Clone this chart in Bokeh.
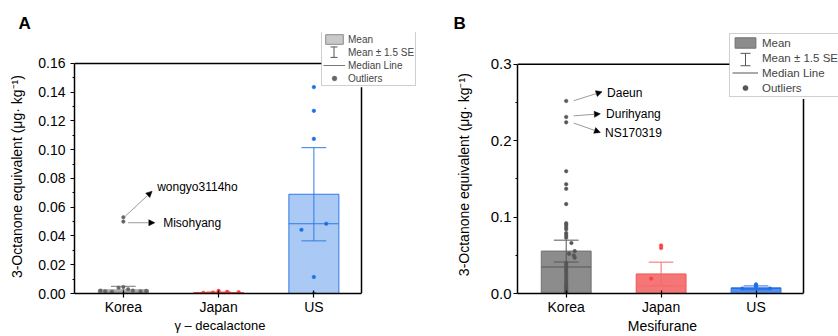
from bokeh.plotting import figure
from bokeh.layouts import row
from bokeh.models import (ColumnDataSource, Range1d, FixedTicker, Arrow, NormalHead, Title,
                          Legend, LegendItem, NumeralTickFormatter)
from bokeh.core.properties import value
from bokeh.embed import file_html
from bokeh.resources import INLINE

FONT = "Liberation Sans"
NBSP = "\u00a0"

categories = ["Korea", "Japan", "US"]
ylabel = "3-Octanone equivalent (μg· kg⁻¹)"

# ---------------- Panel A: gamma-decalactone ----------------
a_mean = [0.0025, 0.0006, 0.0690]
a_se15 = [0.0025, 0.0004, 0.0324]
a_median = [0.0010, 0.0003, 0.0485]
a_korea_pts = [0.0020, 0.0015, 0.0012, 0.0040, 0.0045, 0.0030, 0.0020, 0.0015, 0.0018, 0.0530, 0.0500]
a_korea_jit = [-0.24, -0.19, -0.12, -0.05, 0.00, 0.05, 0.10, 0.18, 0.24, 0.00, 0.00]
a_japan_pts = [0.0005, 0.0018, 0.0012, 0.0009, 0.0006]
a_japan_jit = [-0.16, 0.00, 0.09, 0.21, -0.06]
a_us_pts = [0.1435, 0.1270, 0.1075, 0.0485, 0.0443, 0.0115, 0.0000]
a_us_jit = [0.00, 0.00, 0.00, 0.13, -0.13, 0.00, 0.00]
a_yticks = [0.00, 0.02, 0.04, 0.06, 0.08, 0.10, 0.12, 0.14, 0.16]
a_yminor = [0.01, 0.03, 0.05, 0.07, 0.09, 0.11, 0.13, 0.15]
a_notes = ["wongyo3114ho", "Misohyang"]
a_note_x = [1.355, 1.418]
a_note_y = [0.0738, 0.0487]
a_arrow_x0 = [1.021, 1.050]
a_arrow_y0 = [0.0538, 0.0492]
a_arrow_x1 = [1.302, 1.330]
a_arrow_y1 = [0.0711, 0.0492]

# ---------------- Panel B: Mesifurane ----------------
b_mean = [0.0555, 0.0256, 0.0074]
b_se15 = [0.0143, 0.0154, 0.0025]
b_median = [0.0347, 0.0100, 0.0065]
b_korea_pts = [0.252, 0.231, 0.224, 0.160, 0.143, 0.137, 0.117, 0.092, 0.090, 0.087, 0.084, 0.079,
               0.076, 0.073, 0.066, 0.0555, 0.052, 0.0497, 0.0468, 0.040, 0.037, 0.034, 0.031, 0.028,
               0.025, 0.022, 0.019, 0.016, 0.013, 0.011, 0.009, 0.007, 0.005, 0.003, 0.001]
b_korea_jit = [0.0, 0.0, 0.0, 0.0, 0.0, 0.0, 0.0, 0.0, 0.0, 0.0, 0.0, 0.0,
               0.0, 0.0, 0.055, 0.09, 0.03, 0.08, 0.09, 0.0, 0.0, 0.0, 0.0, 0.0,
               0.0, 0.0, 0.0, 0.0, 0.0, 0.0, 0.0, 0.0, 0.0, 0.0, 0.0]
b_japan_pts = [0.0628, 0.0595, 0.0195]
b_japan_jit = [0.0, 0.0, -0.105]
b_us_pts = [0.0065, 0.0120, 0.0105, 0.0088, 0.0065]
b_us_jit = [-0.145, 0.0, 0.0, 0.0, 0.147]
b_yticks = [0.0, 0.1, 0.2, 0.3]
b_yminor = [0.05, 0.15, 0.25]
b_notes = ["Daeun", "Durihyang", "NS170319"]
b_note_x = [1.431, 1.420, 1.410]
b_note_y = [0.2620, 0.2347, 0.2095]
b_arrow_x0 = [1.08, 1.08, 1.08]
b_arrow_y0 = [0.2523, 0.2325, 0.2230]
b_arrow_x1 = [1.378, 1.360, 1.360]
b_arrow_y1 = [0.2640, 0.2351, 0.2108]

X0, X1 = 0.487, 3.5   # visible axis box in category units


def make_panel(letter, xlabel, mean, se15, median, pts, jits, ylim, yticks, yminor, yfmt,
               notes, note_x, note_y, ax0, ay0, ax1, ay1, sty, lay):
    xs = [1, 2, 3]
    fw = lay["w"] - lay["l"]               # frame width (extends to figure's right edge)
    fh = 336 - lay["t"] - lay["b"]         # frame height (extends above the axis box)
    ux = (X1 - X0) / lay["bw"]             # data units per pixel
    uy = ylim / lay["bh"]
    x_end = X0 + fw * ux
    y_end = fh * uy
    p = figure(width=lay["w"], height=336, x_range=Range1d(X0, x_end), y_range=Range1d(0, y_end),
               output_backend="svg", toolbar_location=None, tools="",
               min_border_left=lay["l"], min_border_right=0,
               min_border_top=lay["t"], min_border_bottom=lay["b"])
    p.background_fill_color = "white"
    p.border_fill_color = "white"
    p.outline_line_color = None
    p.xgrid.visible = False
    p.ygrid.visible = False

    lg = lay["lg"]
    # top and right sides of the axis box, stopping where the legend sits
    p.segment(x0=[X0, X1], x1=[X0 + lg["x"] * ux, X1], y0=[ylim, 0], y1=[ylim, min(ylim, lg["y"] * uy)],
              line_color="black", line_width=1.5)

    bw = 0.525
    src = ColumnDataSource(dict(x=xs, top=mean, fill=sty["bar_fill"], line=sty["bar_line"]))
    bars = p.vbar(x="x", top="top", width=bw, bottom=0, source=src, fill_color="fill",
                  line_color="line", line_width=1)

    lo = [m - s for m, s in zip(mean, se15)]
    hi = [m + s for m, s in zip(mean, se15)]
    cw = 0.13
    esrc = ColumnDataSource(dict(x=xs, lo=lo, hi=hi, xl=[x - cw for x in xs], xr=[x + cw for x in xs],
                                 c=sty["err"]))
    p.segment(x0="x", x1="x", y0="lo", y1="hi", source=esrc, line_color="c", line_width=1)
    p.segment(x0="xl", x1="xr", y0="hi", y1="hi", source=esrc, line_color="c", line_width=1)
    p.segment(x0="xl", x1="xr", y0="lo", y1="lo", source=esrc, line_color="c", line_width=1)

    msrc = ColumnDataSource(dict(x0=[x - bw / 2 for x in xs], x1=[x + bw / 2 for x in xs], y=median,
                                 c=sty["err"]))
    r_med = p.segment(x0="x0", x1="x1", y0="y", y1="y", source=msrc, line_color="c", line_width=1)

    pt_renderers = []
    for i, (vals, jit) in enumerate(zip(pts, jits)):
        px = [xs[i] + j for j in jit]
        pt_renderers.append(p.scatter(px, vals, marker="circle", size=3.6, fill_color=sty["pt"][i],
                                      line_color=sty["pt"][i], line_width=0.5))

    # annotations
    for k in range(len(notes)):
        p.add_layout(Arrow(x_start=ax0[k], y_start=ay0[k], x_end=ax1[k], y_end=ay1[k],
                           line_color="#808080", line_width=0.8,
                           end=NormalHead(size=6, fill_color="black", line_color="black", line_width=0.5)))
    p.text(x=note_x, y=note_y, text=notes, text_font=value(FONT), text_font_size="12px",
           text_baseline="middle", text_align="left", text_color="black")

    # axes
    p.xaxis.ticker = FixedTicker(ticks=xs)
    p.xaxis.bounds = (X0, X1)
    p.xaxis.major_label_overrides = {x: c for x, c in zip(xs, categories)}
    p.xaxis.minor_tick_line_color = None
    p.xaxis.major_tick_in = 3
    p.xaxis.major_tick_out = 4
    p.xaxis.axis_label = xlabel + NBSP * lay["xpad"]
    p.xaxis.major_label_standoff = 1
    p.xaxis.axis_label_standoff = 0
    p.xaxis.major_label_text_font_size = "14px"
    p.xaxis.axis_label_text_font_size = lay["xlfs"]

    p.yaxis.ticker = FixedTicker(ticks=yticks, minor_ticks=yminor)
    p.yaxis.bounds = (0, ylim)
    p.yaxis.formatter = NumeralTickFormatter(format=yfmt)
    p.yaxis.major_tick_in = 0
    p.yaxis.major_tick_out = 4
    p.yaxis.minor_tick_in = 0
    p.yaxis.minor_tick_out = 2
    p.yaxis.axis_label = ylabel + NBSP * lay["ypad"]
    p.yaxis.major_label_standoff = lay["yms"]
    p.yaxis.axis_label_standoff = lay["yls"]
    p.yaxis.major_label_text_font_size = lay["ytfs"]
    p.yaxis.axis_label_text_font_size = "14px"

    for ax in (p.xaxis[0], p.yaxis[0]):
        ax.axis_line_width = 1.5
        ax.axis_line_color = "black"
        ax.major_tick_line_width = 1.2
        ax.minor_tick_line_width = 1
        ax.major_label_text_font = FONT
        ax.axis_label_text_font = FONT
        ax.axis_label_text_font_style = "normal"
        ax.major_label_text_color = "black"
        ax.axis_label_text_color = "black"

    # error-bar icon for the legend's second entry (drawn under the transparent legend)
    ix = X0 + lg["ix"] * ux
    hc = lg["cap"] / 2 * ux
    iy0, iy1 = lg["iy0"] * uy, lg["iy1"] * uy
    p.segment(x0=[ix, ix - hc, ix - hc], x1=[ix, ix + hc, ix + hc], y0=[iy0, iy0, iy1], y1=[iy1, iy0, iy1],
              line_color="#555555", line_width=1)

    r_err = p.line([], [], line_alpha=0)
    legend = Legend(items=[LegendItem(label="Mean", renderers=[bars], index=0),
                           LegendItem(label="Mean ± 1.5 SE", renderers=[r_err]),
                           LegendItem(label="Median Line", renderers=[r_med], index=0),
                           LegendItem(label="Outliers", renderers=[pt_renderers[0]], index=0)],
                    location=(lg["x"], lg["y"]), orientation="vertical",
                    label_text_font=FONT, label_text_font_size=lg["fs"],
                    label_height=lg["row"], glyph_height=lg["row"], glyph_width=lg["gw"],
                    spacing=lg["sp"], padding=lg["pad"], margin=0, label_standoff=lg["st"],
                    border_line_color="#a0a0a0", border_line_width=1,
                    background_fill_alpha=0)
    p.add_layout(legend)

    p.add_layout(Title(text=letter, align="left", offset=lay["tx"], text_font=FONT,
                       text_font_size="17px", text_font_style="bold", text_color="black",
                       standoff=0, vertical_align="bottom"), "above")
    return p


sty_a = dict(bar_fill=["#c9c9c9", "#ff8a8a", "#aac9f4"],
             bar_line=["#8a8a8a", "#ff4a4a", "#2f7be5"],
             err=["#777777", "#ff4a4a", "#2f7be5"],
             pt=["#666666", "#ff3b3b", "#1a6ee8"])
sty_b = dict(bar_fill=["#8c8c8c", "#f47676", "#4f90f0"],
             bar_line=["#707070", "#f25555", "#2a6fe0"],
             err=["#555555", "#f56b6b", "#2a6fe0"],
             pt=["#555555", "#ff4040", "#1f6fe8"])

# l/t/b: borders; bw/bh: axis box size in px; frame extends right to the figure edge
lay_a = dict(w=419, l=74, t=32, b=42, bw=287, bh=231, xlfs="13px", xpad=15, ypad=7,
             yms=5, yls=10, ytfs="14px", tx=-56,
             lg=dict(x=247, y=207, fs="10px", row=12, gw=22, sp=1, pad=1, st=3,
                     ix=259.5, iy0=237, iy1=247.5, cap=7))
lay_b = dict(w=419, l=98, t=32, b=41, bw=286, bh=231, xlfs="14px", xpad=8, ypad=6,
             yms=2, yls=16, ytfs="15px", tx=-64,
             lg=dict(x=212, y=196, fs="11.5px", row=13, gw=26, sp=2, pad=2, st=4,
                     ix=228, iy0=229.5, iy1=242, cap=10))

pa = make_panel("A", "γ – decalactone", a_mean, a_se15, a_median,
                [a_korea_pts, a_japan_pts, a_us_pts], [a_korea_jit, a_japan_jit, a_us_jit],
                0.16, a_yticks, a_yminor, "0.00",
                a_notes, a_note_x, a_note_y, a_arrow_x0, a_arrow_y0, a_arrow_x1, a_arrow_y1, sty_a, lay_a)
pb = make_panel("B", "Mesifurane", b_mean, b_se15, b_median,
                [b_korea_pts, b_japan_pts, b_us_pts], [b_korea_jit, b_japan_jit, b_us_jit],
                0.3, b_yticks, b_yminor, "0.0",
                b_notes, b_note_x, b_note_y, b_arrow_x0, b_arrow_y0, b_arrow_x1, b_arrow_y1, sty_b, lay_b)

layout = row(pa, pb, spacing=0)
open("out.html", "w").write(file_html(layout, INLINE))
